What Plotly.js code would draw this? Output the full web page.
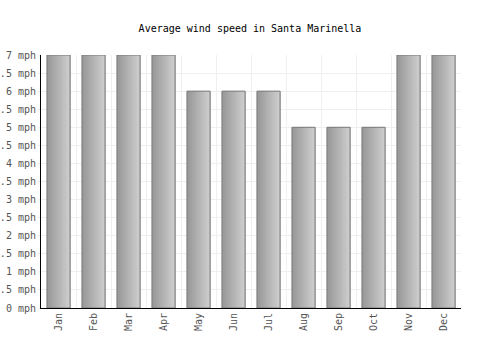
<!DOCTYPE html>
<html>
<head>
<meta charset="utf-8">
<script src="https://cdn.plot.ly/plotly-3.0.1.min.js"></script>
<style>html,body{margin:0;padding:0;background:#fff;}#chart{width:500px;height:350px;}</style>
</head>
<body>
<div id="chart"></div>
<script>
var months = ["Jan","Feb","Mar","Apr","May","Jun","Jul","Aug","Sep","Oct","Nov","Dec"];
var windSpeed = [7, 7, 7, 7, 6, 6, 6, 5, 5, 5, 7, 7];
var yTicks = [0,0.5,1,1.5,2,2.5,3,3.5,4,4.5,5,5.5,6,6.5,7];
var yTickText = yTicks.map(function(v){ return v + ' mph'; });

var barWidth = 0.66;
var slices = 22;
var traces = [];
var dark = [152,152,152], light = [206,206,206];
for (var i = 0; i < slices; i++) {
  var t = i / (slices - 1);
  var c = dark.map(function(d, k){ return Math.round(d + (light[k]-d)*t); });
  var start = -barWidth/2 + i*barWidth/slices;
  traces.push({
    type: 'bar', x: months, y: windSpeed,
    width: barWidth/2 - start,
    offset: start,
    marker: {color: 'rgb(' + c.join(',') + ')', line: {width: 0}},
    hoverinfo: 'skip', showlegend: false
  });
}
traces.push({
  type: 'bar', x: months, y: windSpeed,
  width: barWidth, offset: -barWidth/2,
  marker: {color: 'rgba(0,0,0,0)', line: {color: '#7a7a7a', width: 1}},
  showlegend: false, name: 'Wind speed'
});

var layout = {
  width: 500, height: 350,
  margin: {l: 41, r: 39, t: 55, b: 42},
  paper_bgcolor: '#fff', plot_bgcolor: '#fff',
  barmode: 'overlay',
  font: {family: '"DejaVu Sans Mono", monospace', size: 10, color: '#444'},
  title: {text: 'Average wind speed in Santa Marinella', x: 0.5, xanchor: 'center',
          y: 1 - 28/350, yref: 'container', yanchor: 'middle',
          font: {family: '"DejaVu Sans Mono", monospace', size: 10, color: '#000'}},
  xaxis: {
    type: 'category', tickangle: -90, tickson: 'boundaries',
    showgrid: true, gridcolor: '#efefef', gridwidth: 1,
    showline: true, linecolor: '#000', linewidth: 1,
    ticks: '', fixedrange: true, range: [-0.5, 11.5],
    tickfont: {size: 10, color: '#555'}
  },
  yaxis: {
    range: [0, 7], tickmode: 'array', tickvals: yTicks, ticktext: yTickText,
    showgrid: true, gridcolor: '#efefef', gridwidth: 1,
    showline: true, linecolor: '#000', linewidth: 1,
    ticks: 'outside', ticklen: 2, tickcolor: '#efefef',
    zeroline: false, fixedrange: true,
    tickfont: {size: 10, color: '#555'}
  }
};
Plotly.newPlot('chart', traces, layout, {displayModeBar: false, staticPlot: true});
</script>
</body>
</html>
